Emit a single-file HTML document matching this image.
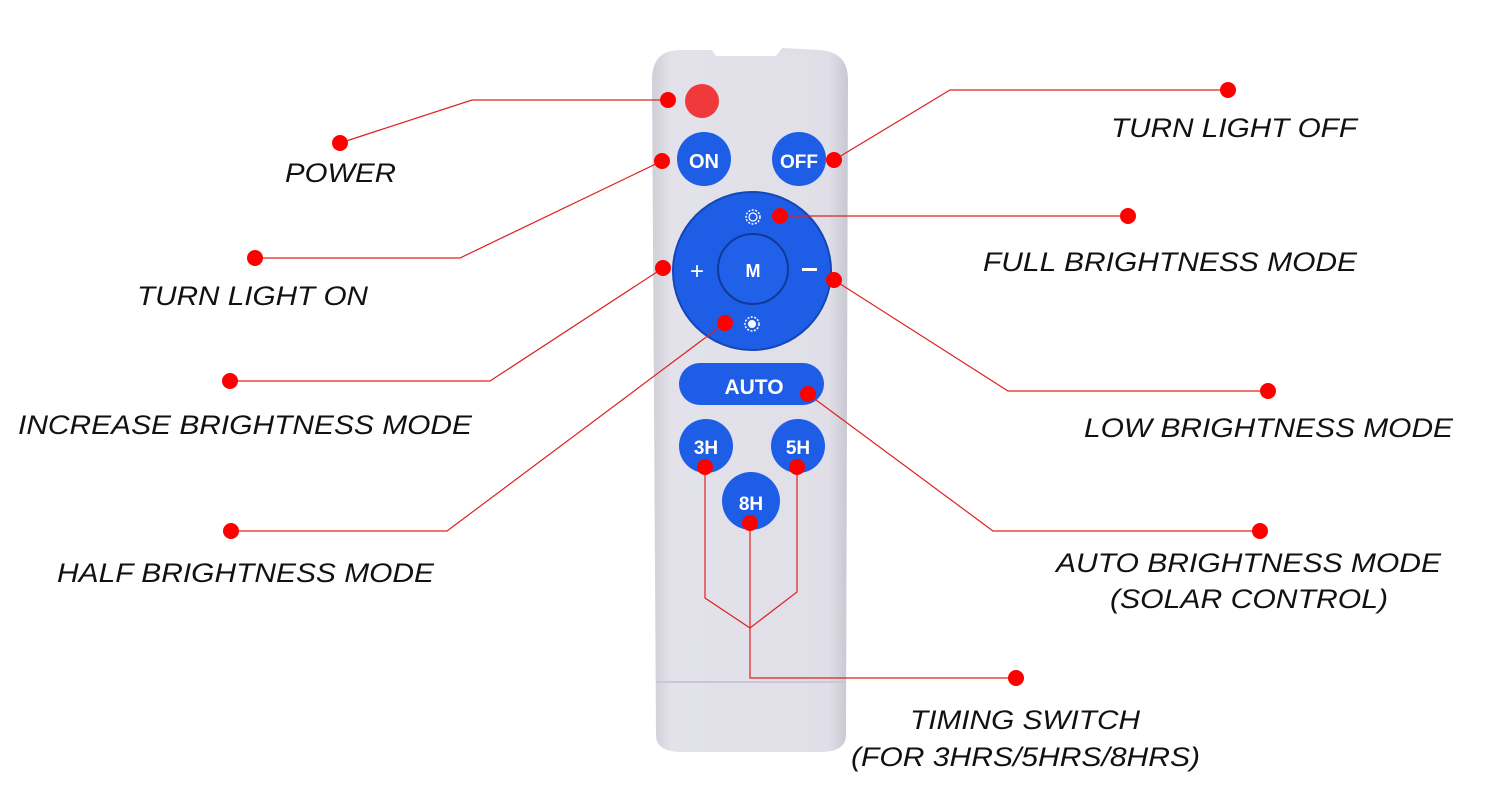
<!DOCTYPE html>
<html><head><style>body{margin:0;background:#fff}svg{display:block}</style></head><body>
<svg width="1500" height="800" viewBox="0 0 1500 800" xmlns="http://www.w3.org/2000/svg" font-family="Liberation Sans, sans-serif">
<defs>
<linearGradient id="b" x1="0" x2="1"><stop offset="0" stop-color="#cfcfd8"/><stop offset="0.1" stop-color="#e3e2ea"/><stop offset="0.9" stop-color="#e0dfe8"/><stop offset="1" stop-color="#c8c8d2"/></linearGradient>
</defs>
<path d="M652,80 Q652,50 680,50 L712,50 L716,56 L776,56 L782,48 L820,50 Q848,52 848,80 L846,735 Q846,752 820,752 L682,752 Q656,752 656,735 Z" fill="url(#b)"/>
<line x1="656" y1="682" x2="846" y2="682" stroke="#c9c8d2" stroke-width="2"/>
<circle cx="702" cy="101" r="17" fill="#f0393a"/>
<circle cx="704" cy="159" r="27" fill="#1e5de6"/><text x="704" y="168" font-size="20" font-weight="bold" fill="#fff" text-anchor="middle">ON</text>
<circle cx="799" cy="159" r="27" fill="#1e5de6"/><text x="799" y="168" font-size="19" font-weight="bold" fill="#fff" text-anchor="middle">OFF</text>
<circle cx="752" cy="271" r="79" fill="#1e5de6" stroke="#1546b8" stroke-width="2"/>
<circle cx="753" cy="269" r="35" fill="#2160e8" stroke="#0f3a9a" stroke-width="2"/>
<text x="753" y="277" font-size="18" font-weight="bold" fill="#fff" text-anchor="middle">M</text>
<text x="697" y="279" font-size="24" fill="#fff" text-anchor="middle">+</text>
<rect x="802" y="268" width="15" height="3" fill="#fff"/>
<circle cx="753" cy="217" r="7" fill="none" stroke="#fff" stroke-width="1.5" stroke-dasharray="2 1.5"/>
<circle cx="753" cy="217" r="4" fill="none" stroke="#fff" stroke-width="1.2"/>
<circle cx="752" cy="324" r="7" fill="none" stroke="#fff" stroke-width="1.5" stroke-dasharray="2 1.5"/>
<circle cx="752" cy="324" r="4" fill="#fff"/>
<rect x="679" y="363" width="145" height="42" rx="21" fill="#1e5de6"/>
<text x="754" y="394" font-size="21" font-weight="bold" fill="#fff" text-anchor="middle">AUTO</text>
<circle cx="706" cy="446" r="27" fill="#1e5de6"/><text x="706" y="454" font-size="19" font-weight="bold" fill="#fff" text-anchor="middle">3H</text>
<circle cx="798" cy="446" r="27" fill="#1e5de6"/><text x="798" y="454" font-size="19" font-weight="bold" fill="#fff" text-anchor="middle">5H</text>
<circle cx="751" cy="501" r="29" fill="#1e5de6"/><text x="751" y="510" font-size="19" font-weight="bold" fill="#fff" text-anchor="middle">8H</text>
<g stroke="#e0201f" stroke-width="1.2" fill="none">
<polyline points="668,100 472,100 340,143"/>
<polyline points="662,161 460,258 255,258"/>
<polyline points="834,160 950,90 1228,90"/>
<polyline points="780,216 1128,216"/>
<polyline points="663,268 490,381 230,381"/>
<polyline points="834,280 1008,391 1268,391"/>
<polyline points="725,323 447,531 231,531"/>
<polyline points="808,394 993,531 1260,531"/>
<polyline points="705,467 705,598 750,628 797,592 797,467"/>
<polyline points="750,523 750,678 1016,678"/>
</g>
<g fill="#f00">
<circle cx="668" cy="100" r="8"/><circle cx="340" cy="143" r="8"/>
<circle cx="662" cy="161" r="8"/><circle cx="255" cy="258" r="8"/>
<circle cx="834" cy="160" r="8"/><circle cx="1228" cy="90" r="8"/>
<circle cx="780" cy="216" r="8"/><circle cx="1128" cy="216" r="8"/>
<circle cx="663" cy="268" r="8"/><circle cx="230" cy="381" r="8"/>
<circle cx="834" cy="280" r="8"/><circle cx="1268" cy="391" r="8"/>
<circle cx="725" cy="323" r="8"/><circle cx="231" cy="531" r="8"/>
<circle cx="808" cy="394" r="8"/><circle cx="1260" cy="531" r="8"/>
<circle cx="705" cy="467" r="8"/><circle cx="797" cy="467" r="8"/><circle cx="750" cy="523" r="8"/>
<circle cx="1016" cy="678" r="8"/>
</g>
<g font-size="27" font-style="italic" fill="#111">
<text x="285" y="182" textLength="111" lengthAdjust="spacingAndGlyphs">POWER</text>
<text x="137" y="305" textLength="231" lengthAdjust="spacingAndGlyphs">TURN LIGHT ON</text>
<text x="1111" y="137" textLength="246" lengthAdjust="spacingAndGlyphs">TURN LIGHT OFF</text>
<text x="983" y="271" textLength="374" lengthAdjust="spacingAndGlyphs">FULL BRIGHTNESS MODE</text>
<text x="18" y="434" textLength="454" lengthAdjust="spacingAndGlyphs">INCREASE BRIGHTNESS MODE</text>
<text x="1084" y="437" textLength="369" lengthAdjust="spacingAndGlyphs">LOW BRIGHTNESS MODE</text>
<text x="57" y="582" textLength="377" lengthAdjust="spacingAndGlyphs">HALF BRIGHTNESS MODE</text>
<text x="1056" y="572" textLength="385" lengthAdjust="spacingAndGlyphs">AUTO BRIGHTNESS MODE</text>
<text x="1110" y="608" textLength="278" lengthAdjust="spacingAndGlyphs">(SOLAR CONTROL)</text>
<text x="910" y="729" textLength="230" lengthAdjust="spacingAndGlyphs">TIMING SWITCH</text>
<text x="851" y="766" textLength="349" lengthAdjust="spacingAndGlyphs">(FOR 3HRS/5HRS/8HRS)</text>
</g>
</svg>
</body></html>
